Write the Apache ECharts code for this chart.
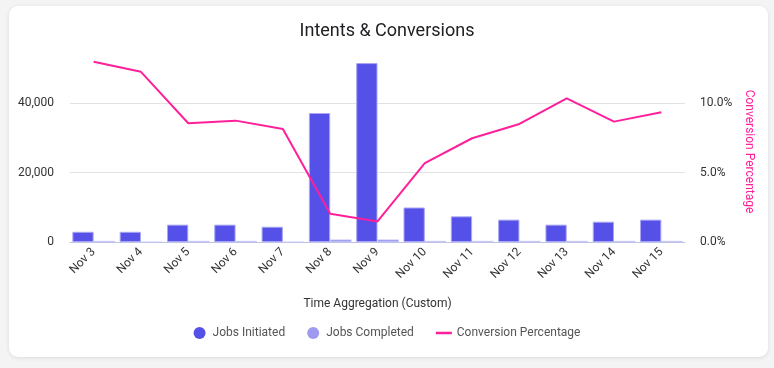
<!DOCTYPE html>
<html>
<head>
<meta charset="utf-8">
<script src="https://cdn.jsdelivr.net/npm/echarts@6/dist/echarts.min.js"></script>
<style>
  html, body { margin: 0; padding: 0; width: 774px; height: 368px; background: #f4f4f4; overflow: hidden; }
  #card { position: absolute; left: 9px; top: 6px; width: 759px; height: 351px; background: #fff; border-radius: 9px; box-shadow: 0 1px 4px rgba(0,0,0,0.10); }
  #chart { position: absolute; left: 0; top: 0; width: 774px; height: 368px; }
</style>
</head>
<body>
<div id="card"></div>
<div id="chart"></div>
<script>
const categories = ['Nov 3','Nov 4','Nov 5','Nov 6','Nov 7','Nov 8','Nov 9','Nov 10','Nov 11','Nov 12','Nov 13','Nov 14','Nov 15'];
const jobsInitiated = [2950, 2950, 5000, 5000, 4400, 37200, 51600, 9950, 7400, 6450, 5000, 5850, 6450];
const jobsCompleted = [300, 0, 300, 300, 0, 700, 700, 300, 300, 300, 300, 300, 300];
const conversionPct = [13.0, 12.27, 8.56, 8.75, 8.15, 2.04, 1.48, 5.68, 7.48, 8.51, 10.36, 8.68, 9.35];
const leftTicks = [0, 20000, 40000];
const rightTicks = [0, 5, 10];

const FONT = 'Roboto, "Noto Sans", sans-serif';
const chart = echarts.init(document.getElementById('chart'), null, { renderer: 'canvas' });
chart.setOption({
  animation: false,
  textStyle: { fontFamily: FONT },
  title: {
    text: 'Intents & Conversions',
    left: 'center', top: 17,
    textStyle: { fontFamily: FONT, fontSize: 18, fontWeight: 'normal', color: '#202124' }
  },
  grid: { left: 70, right: 89, top: 61, bottom: 126 },
  legend: {
    bottom: 24, left: 'center',
    itemWidth: 16, itemHeight: 12, itemGap: 22,
    itemStyle: { borderWidth: 0 },
    textStyle: { fontFamily: FONT, fontSize: 12, color: '#555' },
    data: [
      { name: 'Jobs Initiated', icon: 'circle' },
      { name: 'Jobs Completed', icon: 'circle' },
      { name: 'Conversion Percentage', icon: 'path://M0,0 L16,0 L16,2.5 L0,2.5 Z' }
    ]
  },
  xAxis: {
    type: 'category',
    data: categories,
    name: 'Time Aggregation (Custom)',
    nameLocation: 'middle', nameGap: 56,
    nameTextStyle: { fontFamily: FONT, fontSize: 12, color: '#333' },
    axisLine: { lineStyle: { color: '#bcc3e6', width: 1 } },
    axisTick: { show: false },
    axisLabel: { rotate: 45, fontSize: 12, color: '#333', margin: 8, interval: 0 }
  },
  yAxis: [
    {
      type: 'value', min: 0, max: 52200, interval: 20000,
      axisLine: { show: false }, axisTick: { show: false },
      axisLabel: { fontSize: 12, color: '#333', margin: 16, showMaxLabel: false,
        formatter: v => leftTicks.includes(v) ? v.toLocaleString('en-US') : '' },
      splitLine: { lineStyle: { color: '#e2e2e2' }, showMaxLine: false }
    },
    {
      type: 'value', min: 0, max: 13.05, interval: 5,
      name: 'Conversion Percentage',
      nameLocation: 'middle', nameGap: 52, nameRotate: -90,
      nameTextStyle: { fontFamily: FONT, fontSize: 12, color: '#ff1f9b' },
      axisLine: { show: false }, axisTick: { show: false },
      axisLabel: { fontSize: 12, color: '#333', margin: 15, showMaxLabel: false,
        formatter: v => rightTicks.includes(v) ? v.toFixed(1) + '%' : '' },
      splitLine: { show: false }
    }
  ],
  series: [
    {
      name: 'Jobs Initiated', type: 'bar', data: jobsInitiated,
      barGap: '0%', barCategoryGap: '10%',
      itemStyle: { color: '#5550e8', borderColor: '#a9a7f3', borderWidth: 1 }
    },
    {
      name: 'Jobs Completed', type: 'bar', data: jobsCompleted,
      itemStyle: { color: '#9d9af0', borderColor: '#c9c7f7', borderWidth: 0.5 }
    },
    {
      name: 'Conversion Percentage', type: 'line', yAxisIndex: 1, data: conversionPct,
      symbol: 'none', showSymbol: false,
      lineStyle: { color: '#ff1f9b', width: 2 },
      itemStyle: { color: '#ff1f9b' }
    }
  ]
});
</script>
</body>
</html>
